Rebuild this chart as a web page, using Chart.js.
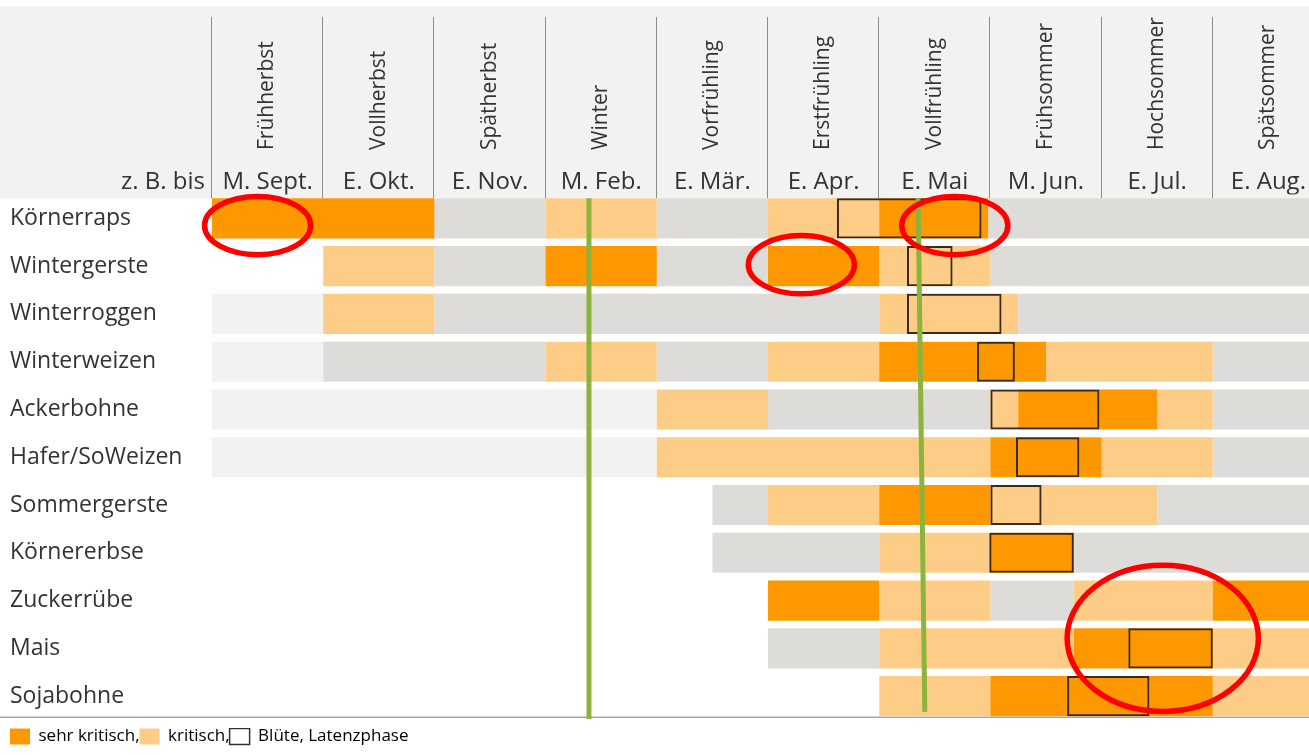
<!DOCTYPE html>
<html lang="de">
<head>
<meta charset="utf-8">
<title>Kritische Phasen</title>
<script src="https://cdn.jsdelivr.net/npm/chart.js@4/dist/chart.umd.min.js"></script>
<style>
    html, body { margin: 0; padding: 0; background: #fff; overflow: hidden; }
    #wrap { width: 1325px; height: 755px; }
</style>
</head>
<body>
<div id="wrap"><canvas id="phasen" width="1325" height="755"></canvas></div>
<script>
// Kulturen (Zeilen) und Jahreszeiten (Spalten)
const crops = ['Körnerraps', 'Wintergerste', 'Winterroggen', 'Winterweizen', 'Ackerbohne',
    'Hafer/SoWeizen', 'Sommergerste', 'Körnererbse', 'Zuckerrübe', 'Mais', 'Sojabohne'];
const seasons = ['Frühherbst', 'Vollherbst', 'Spätherbst', 'Winter', 'Vorfrühling',
    'Erstfrühling', 'Vollfrühling', 'Frühsommer', 'Hochsommer', 'Spätsommer'];
const seasonEnds = ['M. Sept.', 'E. Okt.', 'E. Nov.', 'M. Feb.', 'E. Mär.',
    'E. Apr.', 'E. Mai', 'M. Jun.', 'E. Jul.', 'E. Aug.'];

// Abschnitte: [Zeile, von, bis] in Spalten (0 = Beginn Frühherbst)
const sehrKritisch = [
    [0, 0, 2], [0, 6, 6.98],
    [1, 3, 4], [1, 5, 6],
    [3, 6, 7.5],
    [4, 7.25, 8.5],
    [5, 7, 8],
    [6, 6, 7],
    [7, 7, 7.75],
    [8, 5, 6], [8, 9, 10],
    [9, 7.75, 9],
    [10, 7, 9]
];
const kritisch = [
    [0, 3, 4], [0, 5, 6],
    [1, 1, 2], [1, 6, 7],
    [2, 1, 2], [2, 6, 7.25],
    [3, 3, 4], [3, 5, 6], [3, 7.5, 9],
    [4, 4, 5], [4, 7, 7.25], [4, 8.5, 9],
    [5, 4, 7], [5, 8, 9],
    [6, 5, 6], [6, 7, 8.5],
    [7, 6, 7],
    [8, 6, 7], [8, 7.75, 9],
    [9, 6, 7.75], [9, 9, 10],
    [10, 6, 7], [10, 9, 10]
];
const unkritisch = [
    [0, 2, 3], [0, 4, 5], [0, 6.98, 10],
    [1, 2, 3], [1, 4, 5], [1, 7, 10],
    [2, 2, 6], [2, 7.25, 10],
    [3, 1, 3], [3, 4, 5], [3, 9, 10],
    [4, 5, 7], [4, 9, 10],
    [5, 9, 10],
    [6, 4.5, 5], [6, 8.5, 10],
    [7, 4.5, 6], [7, 7.75, 10],
    [8, 7, 7.75],
    [9, 5, 6]
];
const vorSaat = [
    [2, 0, 1], [3, 0, 1], [4, 0, 4], [5, 0, 4]
];
const bluete = [
    [0, 5.62, 6.92], [1, 6.25, 6.66], [2, 6.25, 7.1], [3, 6.88, 7.22], [4, 7.0, 7.98],
    [5, 7.23, 7.8], [6, 7.0, 7.46], [7, 6.99, 7.75], [9, 8.24, 9.0], [10, 7.69, 8.43]
];

// Markierungen: grüne Linien [x oben, x unten, Zeile oben, Zeile unten]
const greenLines = [[3.39, 3.39, -0.42, 10.48], [6.35, 6.41, -0.42, 10.33]];
// rote Ringe [x Mitte, Zeile Mitte, Radius x, Radius Zeilen]
const redRings = [[0.41, 0.15, 0.477, 0.61], [6.68, 0.15, 0.477, 0.61],
    [5.30, 0.97, 0.477, 0.61], [8.55, 8.79, 0.86, 1.53]];

const colors = {
    sehr: '#fe9800',
    krit: '#fdcd87',
    grau: '#dddcd8',
    hell: '#f2f2f1',
    box: '#3b2a1c'
};

Chart.defaults.font.family = '"Open Sans", sans-serif';
Chart.defaults.color = '#333';

// one dataset per segment number, so every row has at most one bar per dataset
function toDatasets(segs, style, label) {
    const groups = [];
    const count = {};
    segs.forEach(([row, from, to]) => {
        const k = count[row] = (count[row] || 0) + 1;
        if (!groups[k - 1]) groups[k - 1] = [];
        groups[k - 1].push({ x: [from, to], y: crops[row] });
    });
    return groups.map(data => Object.assign({ label, data, xAxisID: 'x' }, style));
}

const datasets = [].concat(
    toDatasets(bluete, { backgroundColor: 'rgba(0,0,0,0)', borderColor: colors.box, borderWidth: 2, order: 0 }, 'Blüte'),
    toDatasets(sehrKritisch, { backgroundColor: colors.sehr, order: 1 }, 'sehr kritisch'),
    toDatasets(kritisch, { backgroundColor: colors.krit, order: 1 }, 'kritisch'),
    toDatasets(unkritisch, { backgroundColor: colors.grau, order: 1 }, 'unkritisch'),
    toDatasets(vorSaat, { backgroundColor: colors.hell, order: 1 }, 'vor Saat')
);

const headerPlugin = {
    id: 'header',
    beforeDraw(chart) {
        const { ctx, chartArea, scales } = chart;
        const x = scales.x, y = scales.y;
        const band = y.getPixelForValue(1) - y.getPixelForValue(0);
        const barTop = y.getPixelForValue(0) - band * 0.42;
        const barBottom = y.getPixelForValue(crops.length - 1) + band * 0.42;
        ctx.save();
        ctx.fillStyle = '#f2f2f2';
        ctx.fillRect(0, 6, chart.width, barTop - 6);
        // Spaltentrenner im Kopf
        ctx.strokeStyle = '#8c8c8c';
        ctx.lineWidth = 1;
        for (let i = 0; i < seasons.length; i++) {
            const px = Math.round(x.getPixelForValue(i)) - 0.5;
            ctx.beginPath();
            ctx.moveTo(px, 17);
            ctx.lineTo(px, barTop);
            ctx.stroke();
        }
        // Linie unter der letzten Zeile
        ctx.strokeStyle = '#a6a6a6';
        ctx.lineWidth = 1.5;
        ctx.beginPath();
        ctx.moveTo(0, barBottom + 1);
        ctx.lineTo(chart.width, barBottom + 1);
        ctx.stroke();
        // "z. B. bis" vor den Datumsangaben
        const d = scales.xDate;
        ctx.fillStyle = '#333';
        ctx.font = '24px "Open Sans", sans-serif';
        ctx.textAlign = 'right';
        ctx.textBaseline = 'middle';
        ctx.fillText('z. B. bis', chartArea.left - 7, d.bottom - 12.4);
        ctx.restore();
    },
    afterDatasetsDraw(chart) {
        const { ctx, scales } = chart;
        const x = scales.x, y = scales.y;
        ctx.save();
        ctx.strokeStyle = '#8cb43c';
        ctx.lineWidth = 5;
        greenLines.forEach(([x0, x1, r0, r1]) => {
            ctx.beginPath();
            ctx.moveTo(x.getPixelForValue(x0), y.getPixelForValue(r0));
            ctx.lineTo(x.getPixelForValue(x1), y.getPixelForValue(r1));
            ctx.stroke();
        });
        ctx.strokeStyle = '#ff0000';
        ctx.lineWidth = 5.5;
        redRings.forEach(([cx, cy, rx, ry]) => {
            const px = x.getPixelForValue(cx), py = y.getPixelForValue(cy);
            ctx.beginPath();
            ctx.ellipse(px, py, x.getPixelForValue(cx + rx) - px, y.getPixelForValue(cy + ry) - py, 0, 0, Math.PI * 2);
            ctx.stroke();
        });
        ctx.restore();
    }
};

new Chart(document.getElementById('phasen'), {
    type: 'bar',
    data: { labels: crops, datasets },
    options: {
        indexAxis: 'y',
        responsive: false,
        animation: false,
        layout: { padding: { top: 6, left: 10, right: 1, bottom: 0 } },
        datasets: {
            bar: { grouped: false, categoryPercentage: 1, barPercentage: 0.84, borderSkipped: false }
        },
        scales: {
            x: {
                type: 'linear', min: 0, max: 10, position: 'bottom',
                grid: { display: false }, border: { display: false }, ticks: { display: false },
                afterFit(scale) { scale.height = 8; }
            },
            xDate: {
                type: 'category', labels: seasonEnds, position: 'top', offset: true, weight: 1,
                grid: { display: false, drawTicks: false }, border: { display: false },
                ticks: { autoSkip: false, maxRotation: 0, padding: -2, font: { size: 24 } },
                afterFit(scale) { scale.height = 30; }
            },
            xSeason: {
                type: 'category', labels: seasons, position: 'top', offset: true, weight: 2,
                grid: { display: false, drawTicks: false }, border: { display: false },
                ticks: { autoSkip: false, minRotation: 90, maxRotation: 90, padding: 14.5, labelOffset: 25, font: { size: 21 } },
                afterFit(scale) { scale.height = 158.5; }
            },
            y: {
                grid: { display: false }, border: { display: false },
                ticks: { crossAlign: 'far', font: { size: 23 } },
                afterFit(scale) { scale.width = 202; }
            }
        },
        plugins: {
            tooltip: { enabled: false },
            legend: {
                position: 'bottom', align: 'start', onClick: null,
                labels: {
                    boxWidth: 20, boxHeight: 16, padding: 0, font: { size: 17 },
                    generateLabels: () => [
                        { text: 'sehr kritisch,', fillStyle: colors.sehr, strokeStyle: colors.sehr, lineWidth: 0 },
                        { text: 'kritisch,', fillStyle: colors.krit, strokeStyle: colors.krit, lineWidth: 0 },
                        { text: 'Blüte, Latenzphase', fillStyle: '#fff', strokeStyle: '#333', lineWidth: 1.5 }
                    ]
                }
            }
        }
    },
    plugins: [headerPlugin]
});
</script>
</body>
</html>
